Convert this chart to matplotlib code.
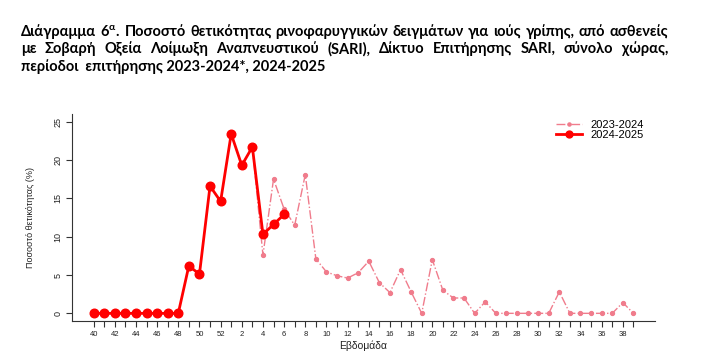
import numpy as np
import matplotlib
matplotlib.use('Agg')
import matplotlib.pyplot as plt

# weeks of the season, 40..52 then 1..39
weeks = list(range(40, 53)) + list(range(1, 40))

# 2024-2025 season (weeks 40 .. 6)
s2425 = [0, 0, 0, 0, 0, 0, 0, 0, 0, 6.2, 5.1, 16.6, 14.6, 23.4, 19.3, 21.7,
         10.3, 11.6, 12.9]
# 2023-2024 season (weeks 3 .. 39)
s2324_start = 15
s2324 = [21.7, 7.6, 17.5, 13.6, 11.5, 18.1, 7.1, 5.4, 4.9, 4.6, 5.3, 6.8, 4.0,
         2.7, 5.7, 2.8, 0, 7.0, 3.0, 2.0, 2.0, 0, 1.5, 0, 0, 0, 0, 0, 0, 2.8,
         0, 0, 0, 0, 0, 1.4, 0]

title_lines = [
    "Διάγραμμα 6$^{\\mathregular{α}}$. Ποσοστό θετικότητας ρινοφαρυγγικών δειγμάτων για ιούς γρίπης, από ασθενείς",
    "με Σοβαρή Οξεία Λοίμωξη Αναπνευστικού (SARI), Δίκτυο Επιτήρησης SARI, σύνολο χώρας,",
    "περίοδοι  επιτήρησης 2023-2024*, 2024-2025",
]

plt.rcParams['font.family'] = ['Liberation Sans', 'DejaVu Sans']

W, H = 701, 363
fig = plt.figure(figsize=(W / 100, H / 100), dpi=100)
ax = fig.add_axes([72 / W, 1 - 321 / H, (655 - 72) / W, (321 - 114) / H])

x_old = np.arange(s2324_start, s2324_start + len(s2324))
x_new = np.arange(len(s2425))
ax.plot(x_old, s2324, color='#F07C8C', ls='-.', lw=1.0, marker='o', ms=2.8,
        label='2023-2024')
ax.plot(x_new, s2425, color='#FF0000', ls='-', lw=2.0, marker='o', ms=6.2,
        label='2024-2025')

ax.set_xlim(-0.04 * 51, 51 + 0.04 * 51)
ax.set_ylim(-1, 26)
ax.set_xticks(np.arange(len(weeks)))
ax.set_xticklabels([str(w) if i % 2 == 0 else '' for i, w in enumerate(weeks)],
                   fontsize=5.5)
ax.set_yticks([0, 5, 10, 15, 20, 25])
ax.set_yticklabels(['0', '5', '10', '15', '20', '25'], fontsize=6.5,
                   rotation=90, va='center')
ax.tick_params(length=4, width=0.8, color='#333333', pad=3, labelcolor='#222222')
for s in ['top', 'right']:
    ax.spines[s].set_visible(False)
for s in ['left', 'bottom']:
    ax.spines[s].set_linewidth(0.8)
    ax.spines[s].set_color('#333333')

ax.set_xlabel('Εβδομάδα', fontsize=7.5, color='#222222', labelpad=2)
ax.set_ylabel('Ποσοστό θετικότητας (%)', fontsize=6.5, color='#222222',
              labelpad=13)

ax.legend(loc='upper left', bbox_to_anchor=(0.82, 1.0), frameon=False,
          fontsize=8, handlelength=2.4, labelspacing=0.0, borderpad=0,
          handletextpad=0.7, markerscale=0.8)

# title, first two lines justified
fig.canvas.draw()
rend = fig.canvas.get_renderer()
left, right = 21, 668
ys = [32, 49, 67]
tkw = dict(fontsize=10.5, fontweight='bold', family=['Lato', 'DejaVu Sans'],
           va='center', ha='left', color='black')
for k, line in enumerate(title_lines):
    yf = 1 - ys[k] / H
    if k == 2:
        fig.text(left / W, yf, line, **tkw)
        continue
    words = line.split(' ')
    texts = [fig.text(0, yf, w, **tkw) for w in words]
    widths = [t.get_window_extent(rend).width for t in texts]
    gap = (right - left - sum(widths)) / (len(words) - 1)
    x = left
    for t, w in zip(texts, widths):
        t.set_x(x / W)
        x += w + gap

fig.savefig('out.png', dpi=100)
